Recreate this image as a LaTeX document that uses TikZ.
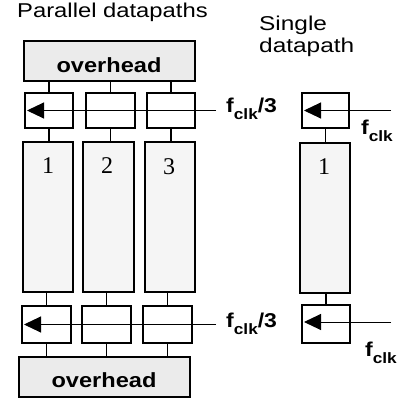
\documentclass[tikz,border=0pt]{standalone}
\usepackage{fontspec}
\setmainfont{Liberation Sans}
\newfontfamily\serifnum{Liberation Serif}
\usepackage{graphicx}
\usetikzlibrary{arrows.meta}
\newcommand{\hs}[2]{\scalebox{#1}[1]{#2}}
\newcommand{\fclk}{\bfseries f\raisebox{-0.32em}{\fontsize{15}{15}\selectfont\bfseries clk}}
\begin{document}
\begin{tikzpicture}[x=1pt,y=-1pt,
  box/.style={draw=black, line width=1.5pt, inner sep=0pt, outer sep=0pt},
  ohbox/.style={box, fill=black!8},
  dpbox/.style={box, fill=black!4},
  regbox/.style={box, fill=white},
  conn/.style={line width=1.4pt},
  clk/.style={line width=1pt, -{Triangle[length=17pt,width=16pt]}},
  title/.style={inner sep=0pt, anchor=north west, align=left, font=\fontsize{20}{22}\selectfont},
  ohtext/.style={inner sep=0pt, font=\fontsize{20.5}{22}\selectfont\bfseries},
  numtext/.style={inner sep=0pt, font=\fontsize{24}{26}\selectfont\serifnum},
  clktext/.style={inner sep=0pt, font=\fontsize{20}{22}\selectfont}]
\useasboundingbox (0,0) rectangle (397,403);

% titles
\node[title] (tp) at (17,3) {\hs{1.19}{Parallel datapaths}};
\node[title] (ts) at (259,16) {\hs{1.22}{Single}\\[0pt]\hs{1.22}{datapath}};

% parallel: top overhead
\node[ohbox, minimum width=171, minimum height=40] (oht) at (109.5,61) {};
\node[ohtext] (ohtt) at (109,65) {\hs{1.15}{overhead}};

% top registers
\node[regbox, minimum width=48, minimum height=35] (r1) at (49,110.5) {};
\node[regbox, minimum width=49, minimum height=35] (r2) at (110.5,110.5) {};
\node[regbox, minimum width=48, minimum height=35] (r3) at (171,110.5) {};

% datapaths
\node[dpbox, minimum width=50, minimum height=150] (d1) at (48,217) {};
\node[dpbox, minimum width=51, minimum height=150] (d2) at (108.5,217) {};
\node[dpbox, minimum width=50, minimum height=150] (d3) at (170,217) {};
\node[numtext] (n1) at (48,166) {1};
\node[numtext] (n2) at (107,166) {2};
\node[numtext] (n3) at (169,167) {3};

% bottom registers
\node[regbox, minimum width=49, minimum height=37] (b1) at (46.5,324.5) {};
\node[regbox, minimum width=49, minimum height=37] (b2) at (106.5,324.5) {};
\node[regbox, minimum width=49, minimum height=37] (b3) at (167.5,324.5) {};

% bottom overhead
\node[ohbox, minimum width=171, minimum height=40] (ohb) at (104.5,377) {};
\node[ohtext] (ohbt) at (104,380) {\hs{1.15}{overhead}};

% vertical connectors
\foreach \r/\d/\b in {r1/d1/b1, r2/d2/b2, r3/d3/b3}{
  \draw[conn] (\r.north) -- (\r.north |- oht.south);
  \draw[conn] (\r.south) -- (\r.south |- \d.north);
  \draw[conn] (\b.north) -- (\b.north |- \d.south);
  \draw[conn] (\b.south) -- (\b.south |- ohb.north);
}

% clock lines parallel
\coordinate (ca) at (216,110.5);
\draw[clk] (ca) -- ([xshift=2pt]r1.west);
\node[clktext, anchor=west] (fa) at (226,109) {\hs{1.15}{\fclk/3}};
\coordinate (cb) at (216,324.5);
\draw[clk] (cb) -- ([xshift=2pt]b1.west);
\node[clktext, anchor=west] (fb) at (226,324) {\hs{1.15}{\fclk/3}};

% single datapath
\node[regbox, minimum width=47, minimum height=35] (sr) at (325.5,110.5) {};
\node[dpbox, minimum width=50, minimum height=150] (sd) at (325,218) {};
\node[numtext] (sn) at (324,167) {1};
\node[regbox, minimum width=48, minimum height=38] (sb) at (326,324) {};
\draw[conn] (sr.south) -- (sr.south |- sd.north);
\draw[conn] (sb.north) -- (sb.north |- sd.south);

\coordinate (sca) at (391,110.5);
\draw[clk] (sca) -- ([xshift=2pt]sr.west);
\node[clktext] (sfa) at (377,131) {\hs{1.15}{\fclk}};
\coordinate (scb) at (391,322);
\draw[clk] (scb) -- ([xshift=2pt]sb.west |- scb);
\node[clktext] (sfb) at (381,353) {\hs{1.15}{\fclk}};
\end{tikzpicture}
\end{document}
